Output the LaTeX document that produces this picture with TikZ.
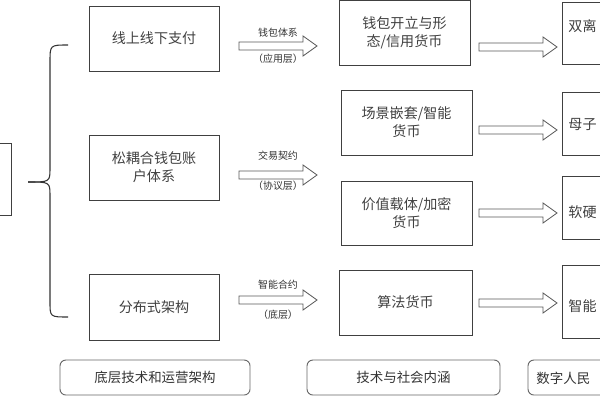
\documentclass[tikz,border=0pt]{standalone}
\usepackage{fontspec}
\setmainfont{Noto Sans CJK SC}
\newcommand{\hollowarrow}[2]{% centre x, centre y
    \draw[black!65, line width=0.7pt, line join=miter] (#1-39,#2-4) -- (#1+25,#2-4) -- (#1+25,#2-10) -- (#1+39,#2) -- (#1+25,#2+10) -- (#1+25,#2+4) -- (#1-39,#2+4) -- cycle;}
\begin{document}
\begin{tikzpicture}[x=0.03cm, y=-0.03cm,
        main/.style = {rectangle, draw=black!75, line width=0.8pt, text=black!75, font=\fontsize{12pt}{15.5pt}\selectfont, align=center, inner sep=0pt},
        base/.style = {rounded corners=5pt, draw=black!60, line width=0.8pt, text=black!80, font=\fontsize{11.5pt}{14pt}\selectfont, inner sep=0pt},
        lab/.style = {text=black!80, font=\fontsize{8.5pt}{9pt}\selectfont}]
        \useasboundingbox (0,0) rectangle (600,400);
        \clip (0,0) rectangle (600,400);

        % Bloc de gauche (coupe)
        \node[main, minimum width=1.2cm, minimum height=72*0.03cm] (L) at (-9,179) {};

        % Accolade
        \coordinate (bt) at (68,45);
        \coordinate (bb) at (68,317);
        \coordinate (bp) at (28,182);
        \draw[black!80, line width=0.9pt] (bt) .. controls (50,45) .. (50,62) -- (50,168) .. controls (50,182) .. (bp);
        \draw[black!80, line width=0.9pt] (bp) .. controls (50,182) .. (50,196) -- (50,302) .. controls (50,317) .. (bb);

        % Colonne A
        \node[main, minimum width=130*0.03cm, minimum height=65*0.03cm] (a1) at (154,38.5) {线上线下支付};
        \node[main, minimum width=130*0.03cm, minimum height=65*0.03cm] (a2) at (154,167.5) {松耦合钱包账\\户体系};
        \node[main, minimum width=130*0.03cm, minimum height=66*0.03cm] (a3) at (154,307) {分布式架构};

        % Fleches A -> B
        \hollowarrow{278}{46}
        \hollowarrow{278}{175}
        \hollowarrow{278}{300}
        \node[lab] (l1) at (278,33) {钱包体系};
        \node[lab] (l2) at (278,59) {（应用层）};
        \node[lab] (l3) at (278,156) {交易契约};
        \node[lab] (l4) at (278,186) {（协议层）};
        \node[lab] (l5) at (278,285) {智能合约};
        \node[lab] (l6) at (278,315) {（底层）};

        % Colonne B
        \node[main, minimum width=131*0.03cm, minimum height=65*0.03cm] (b1) at (404.5,33) {钱包开立与形\\态/信用货币};
        \node[main, minimum width=131*0.03cm, minimum height=65*0.03cm] (b2) at (406.5,122.5) {场景嵌套/智能\\货币};
        \node[main, minimum width=131*0.03cm, minimum height=64*0.03cm] (b3) at (406.5,213) {价值载体/加密\\货币};
        \node[main, minimum width=133*0.03cm, minimum height=65*0.03cm] (b4) at (405.5,302.5) {算法货币};

        % Fleches B -> C
        \foreach \y in {47,130,213,303}{
            \hollowarrow{518}{\y}
        }

        % Colonne C (coupee)
        \node[main, minimum width=80*0.03cm, minimum height=62*0.03cm] (c1) at (602,33) {};
        \node[main, minimum width=80*0.03cm, minimum height=63*0.03cm] (c2) at (602,123.5) {};
        \node[main, minimum width=80*0.03cm, minimum height=63*0.03cm] (c3) at (602,207.5) {};
        \node[main, minimum width=80*0.03cm, minimum height=73*0.03cm] (c4) at (602,301.5) {};
        \node[main, draw=none, anchor=west] (t1) at (568,26) {双离};
        \node[main, draw=none, anchor=west] (t2) at (568,125) {母子};
        \node[main, draw=none, anchor=west] (t3) at (568,212) {软硬};
        \node[main, draw=none, anchor=west] (t4) at (568,306) {智能};

        % Bas
        \node[base, minimum width=190*0.03cm, minimum height=35*0.03cm] (d1) at (155,377.5) {底层技术和运营架构};
        \node[base, minimum width=193*0.03cm, minimum height=35*0.03cm] (d2) at (403.5,377.5) {技术与社会内涵};
        \node[base, minimum width=100*0.03cm, minimum height=35*0.03cm] (d3) at (578,377.5) {};
        \node[base, draw=none, anchor=west] (t5) at (536,378) {数字人民};
    \end{tikzpicture}
\end{document}
